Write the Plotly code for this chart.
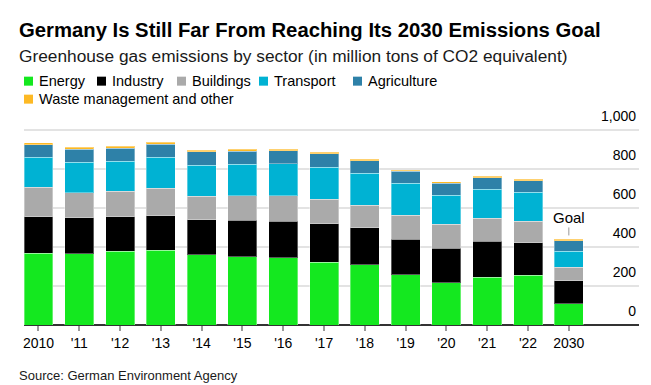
import plotly.graph_objects as go

years = ["2010", "2011", "2012", "2013", "2014", "2015", "2016", "2017",
         "2018", "2019", "2020", "2021", "2022", "2030"]
tick_labels = ["2010", "'11", "'12", "'13", "'14", "'15", "'16", "'17",
               "'18", "'19", "'20", "'21", "'22", "2030"]

energy = [369, 366, 378, 383, 361, 350, 345, 323, 309, 258, 217, 245, 256, 108]
industry = [186, 185, 177, 178, 179, 187, 188, 196, 190, 181, 178, 184, 165, 119]
buildings = [151, 128, 132, 142, 120, 125, 129, 126, 116, 125, 123, 120, 112, 69]
transport = [154, 156, 154, 157, 159, 162, 165, 165, 163, 164, 147, 147, 148, 82]
agriculture = [65, 67, 65, 68, 70, 68, 67, 68, 65, 62, 63, 59, 59, 54]
waste = [10, 10, 12, 10, 8, 9, 9, 8, 7, 5, 7, 8, 7, 7]

y_ticks = [0, 200, 400, 600, 800, 1000]
y_tick_labels = ["0", "200", "400", "600", "800", "1,000"]

series_names = ["Energy", "Industry", "Buildings", "Transport", "Agriculture",
                "Waste management and other"]
series_values = [energy, industry, buildings, transport, agriculture, waste]
series_colors = ["#14e81f", "#000000", "#aaaaaa", "#00b2d3", "#2e81a8", "#fdb924"]

FONT = "Liberation Sans, Arial, sans-serif"

# The page body has an 8px margin: figure is drawn offset by 8px.
OFF = 8
PAGE_W, PAGE_H = 651, 385
W, H = PAGE_W - OFF, PAGE_H - OFF
YMAX = 1170
# plot area in page pixels
L, R, B = 24, 639, 325
SCALE = 0.195  # px per unit
T = B - YMAX * SCALE


def px(x):
    return (x - L) / (R - L)


def py(y):
    return (B - y) / (B - T)


fig = go.Figure()
for name, vals, color in zip(series_names, series_values, series_colors):
    fig.add_trace(go.Bar(
        x=years, y=vals, name=name,
        marker=dict(color=color, line=dict(color="rgba(255,255,255,0.35)", width=1)),
    ))

totals = [sum(v) for v in zip(*series_values)]

annotations = [
    dict(text="<b>Germany Is Still Far From Reaching Its 2030 Emissions Goal</b>",
         x=px(17), y=py(30), xanchor="left", yanchor="middle",
         font=dict(family=FONT, size=20.3, color="#000")),
    dict(text="Greenhouse gas emissions by sector (in million tons of CO2 equivalent)",
         x=px(17), y=py(56), xanchor="left", yanchor="middle",
         font=dict(family=FONT, size=17.3, color="#1a1a1a")),
    dict(text="Source: German Environment Agency",
         x=px(17), y=py(376), xanchor="left", yanchor="middle",
         font=dict(family=FONT, size=13, color="#1a1a1a")),
]

# custom legend: (square left x, row center y) in page pixels
legend_pos = [(24, 81), (97, 81), (177, 81), (259, 81), (353, 81), (24, 99)]
shapes = []
for (lx, ly), name, color in zip(legend_pos, series_names, series_colors):
    shapes.append(dict(type="rect", xref="paper", yref="paper",
                       x0=px(lx), x1=px(lx + 9), y0=py(ly + 4.5), y1=py(ly - 4.5),
                       fillcolor=color, line=dict(width=0)))
    annotations.append(dict(text=name, x=px(lx + 13), y=py(ly), xanchor="left",
                            yanchor="middle",
                            font=dict(family=FONT, size=14.5, color="#000")))

for a in annotations:
    a.update(xref="paper", yref="paper", showarrow=False)

goal_idx = years.index("2030")
annotations.append(dict(
    text="Goal", x=goal_idx, y=totals[goal_idx], xref="x", yref="y",
    showarrow=True, arrowhead=0, arrowwidth=1, arrowcolor="#999",
    ax=0, ay=-22, standoff=4,
    font=dict(family=FONT, size=15, color="#000"),
))

fig.update_layout(
    width=W, height=H,
    barmode="stack", bargap=0.29,
    plot_bgcolor="white", paper_bgcolor="white",
    margin=dict(l=L - OFF, r=W - (R - OFF), t=T - OFF, b=H - (B - OFF), pad=0,
                autoexpand=False),
    font=dict(family=FONT, size=13, color="#000"),
    showlegend=False,
    xaxis=dict(
        type="category",
        tickmode="array", tickvals=years, ticktext=tick_labels,
        range=[-0.355, 14.72],
        showline=False,
        ticks="outside", ticklen=5, tickwidth=1.5, tickcolor="#999",
        ticklabelstandoff=0,
        tickfont=dict(family=FONT, size=14, color="#000"),
        showgrid=False,
    ),
    yaxis=dict(
        range=[0, YMAX], tickvals=y_ticks, ticktext=y_tick_labels,
        side="right", ticklabelposition="inside top", ticklabelshift=-4,
        showgrid=True, gridcolor="#e3e3e3", gridwidth=1.5,
        zeroline=True, zerolinecolor="#333", zerolinewidth=1.5,
        showline=False, ticks="",
        tickfont=dict(family=FONT, size=14, color="#000"),
    ),
    annotations=annotations,
    shapes=shapes,
)

fig.write_html("out.html")
